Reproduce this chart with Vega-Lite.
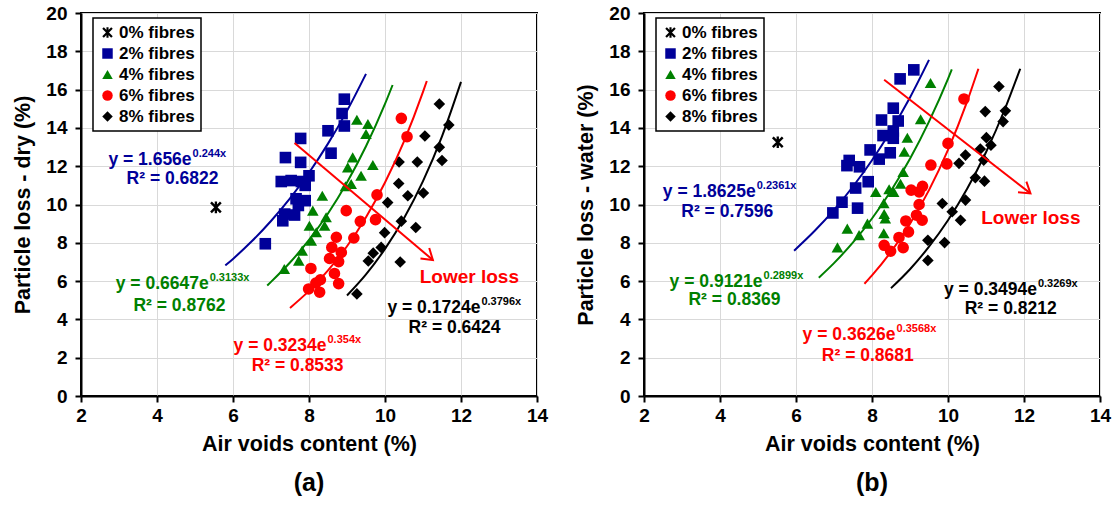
{
  "$schema": "https://vega.github.io/schema/vega-lite/v6.json",
  "padding": {"left": 11, "top": 3, "right": 0, "bottom": 0},
  "spacing": 25,
  "resolve": {"scale": {"color": "independent", "shape": "independent"}},
  "datasets": {
    "pointsA": [
      {"series": "0% fibres", "x": 5.55, "y": 9.85},
      {"series": "2% fibres", "x": 6.85, "y": 7.95},
      {"series": "2% fibres", "x": 7.31, "y": 9.15},
      {"series": "2% fibres", "x": 7.36, "y": 9.5},
      {"series": "2% fibres", "x": 7.62, "y": 9.45},
      {"series": "2% fibres", "x": 7.66, "y": 10.3},
      {"series": "2% fibres", "x": 7.9, "y": 10.2},
      {"series": "2% fibres", "x": 7.72, "y": 9.95},
      {"series": "2% fibres", "x": 7.27, "y": 11.2},
      {"series": "2% fibres", "x": 7.53, "y": 11.25},
      {"series": "2% fibres", "x": 7.8, "y": 11.2},
      {"series": "2% fibres", "x": 7.9, "y": 11.0},
      {"series": "2% fibres", "x": 8.0, "y": 11.5},
      {"series": "2% fibres", "x": 7.38, "y": 12.45},
      {"series": "2% fibres", "x": 7.78, "y": 12.2},
      {"series": "2% fibres", "x": 7.78, "y": 13.45},
      {"series": "2% fibres", "x": 8.58, "y": 12.68},
      {"series": "2% fibres", "x": 8.5, "y": 13.85},
      {"series": "2% fibres", "x": 8.93, "y": 14.1},
      {"series": "2% fibres", "x": 8.87, "y": 14.75},
      {"series": "2% fibres", "x": 8.93, "y": 15.5},
      {"series": "4% fibres", "x": 9.26, "y": 14.43},
      {"series": "4% fibres", "x": 9.55, "y": 14.2},
      {"series": "4% fibres", "x": 9.5, "y": 13.68},
      {"series": "4% fibres", "x": 9.15, "y": 12.46},
      {"series": "4% fibres", "x": 9.02, "y": 11.94},
      {"series": "4% fibres", "x": 9.68, "y": 12.06},
      {"series": "4% fibres", "x": 9.37, "y": 11.5},
      {"series": "4% fibres", "x": 9.11, "y": 11.07},
      {"series": "4% fibres", "x": 8.96, "y": 10.95},
      {"series": "4% fibres", "x": 8.35, "y": 10.46},
      {"series": "4% fibres", "x": 8.1, "y": 9.68},
      {"series": "4% fibres", "x": 8.45, "y": 9.33},
      {"series": "4% fibres", "x": 8.01, "y": 8.89},
      {"series": "4% fibres", "x": 8.41, "y": 8.89},
      {"series": "4% fibres", "x": 8.19, "y": 8.55},
      {"series": "4% fibres", "x": 8.06, "y": 8.11},
      {"series": "4% fibres", "x": 7.82, "y": 7.59},
      {"series": "4% fibres", "x": 7.73, "y": 7.07},
      {"series": "4% fibres", "x": 7.35, "y": 6.63},
      {"series": "6% fibres", "x": 10.43, "y": 14.5},
      {"series": "6% fibres", "x": 10.58, "y": 13.54},
      {"series": "6% fibres", "x": 9.79, "y": 10.5},
      {"series": "6% fibres", "x": 8.98, "y": 9.68},
      {"series": "6% fibres", "x": 9.75, "y": 9.21},
      {"series": "6% fibres", "x": 9.35, "y": 9.12},
      {"series": "6% fibres", "x": 9.18, "y": 8.25},
      {"series": "6% fibres", "x": 8.72, "y": 8.29},
      {"series": "6% fibres", "x": 8.6, "y": 7.76},
      {"series": "6% fibres", "x": 8.85, "y": 7.5},
      {"series": "6% fibres", "x": 8.54, "y": 7.18},
      {"series": "6% fibres", "x": 8.78, "y": 7.02},
      {"series": "6% fibres", "x": 8.05, "y": 6.66},
      {"series": "6% fibres", "x": 8.67, "y": 6.4},
      {"series": "6% fibres", "x": 8.78, "y": 5.87},
      {"series": "6% fibres", "x": 8.3, "y": 6.07},
      {"series": "6% fibres", "x": 8.18, "y": 5.9},
      {"series": "6% fibres", "x": 7.99, "y": 5.59},
      {"series": "6% fibres", "x": 8.28, "y": 5.42},
      {"series": "8% fibres", "x": 11.43, "y": 15.25},
      {"series": "8% fibres", "x": 11.68, "y": 14.15},
      {"series": "8% fibres", "x": 11.05, "y": 13.58},
      {"series": "8% fibres", "x": 11.43, "y": 12.99},
      {"series": "8% fibres", "x": 11.5, "y": 12.3},
      {"series": "8% fibres", "x": 10.37, "y": 12.22},
      {"series": "8% fibres", "x": 10.85, "y": 12.22},
      {"series": "8% fibres", "x": 10.36, "y": 11.1},
      {"series": "8% fibres", "x": 10.6, "y": 10.46},
      {"series": "8% fibres", "x": 11.01, "y": 10.6},
      {"series": "8% fibres", "x": 10.07, "y": 10.1},
      {"series": "8% fibres", "x": 10.43, "y": 9.13},
      {"series": "8% fibres", "x": 10.81, "y": 8.8},
      {"series": "8% fibres", "x": 9.99, "y": 8.53},
      {"series": "8% fibres", "x": 9.9, "y": 7.76},
      {"series": "8% fibres", "x": 9.69, "y": 7.46},
      {"series": "8% fibres", "x": 9.56, "y": 7.05},
      {"series": "8% fibres", "x": 10.4, "y": 7.0},
      {"series": "8% fibres", "x": 9.26, "y": 5.33}
    ],
    "pointsB": [
      {"series": "0% fibres", "x": 5.52, "y": 13.25},
      {"series": "2% fibres", "x": 6.97, "y": 9.56},
      {"series": "2% fibres", "x": 7.21, "y": 10.12},
      {"series": "2% fibres", "x": 7.62, "y": 9.81},
      {"series": "2% fibres", "x": 7.57, "y": 10.86},
      {"series": "2% fibres", "x": 7.9, "y": 11.19},
      {"series": "2% fibres", "x": 7.34, "y": 12.03},
      {"series": "2% fibres", "x": 7.4, "y": 12.3},
      {"series": "2% fibres", "x": 7.67, "y": 11.97},
      {"series": "2% fibres", "x": 7.95, "y": 12.85},
      {"series": "2% fibres", "x": 8.19, "y": 12.37},
      {"series": "2% fibres", "x": 8.48, "y": 12.7},
      {"series": "2% fibres", "x": 8.56, "y": 13.46},
      {"series": "2% fibres", "x": 8.29, "y": 13.6},
      {"series": "2% fibres", "x": 8.56, "y": 13.84},
      {"series": "2% fibres", "x": 8.25, "y": 14.41},
      {"series": "2% fibres", "x": 8.69, "y": 14.36},
      {"series": "2% fibres", "x": 8.56, "y": 15.03},
      {"series": "2% fibres", "x": 8.74, "y": 16.56},
      {"series": "2% fibres", "x": 9.1, "y": 17.03},
      {"series": "4% fibres", "x": 9.54, "y": 16.34},
      {"series": "4% fibres", "x": 9.28, "y": 14.45},
      {"series": "4% fibres", "x": 8.93, "y": 13.49},
      {"series": "4% fibres", "x": 8.85, "y": 12.75},
      {"series": "4% fibres", "x": 8.82, "y": 11.7},
      {"series": "4% fibres", "x": 8.75, "y": 11.08},
      {"series": "4% fibres", "x": 8.1, "y": 10.65},
      {"series": "4% fibres", "x": 8.57, "y": 10.66},
      {"series": "4% fibres", "x": 8.45, "y": 10.8},
      {"series": "4% fibres", "x": 8.31, "y": 10.07},
      {"series": "4% fibres", "x": 8.32, "y": 9.5},
      {"series": "4% fibres", "x": 8.35, "y": 9.27},
      {"series": "4% fibres", "x": 7.88, "y": 9.0},
      {"series": "4% fibres", "x": 7.35, "y": 8.74},
      {"series": "4% fibres", "x": 7.66, "y": 8.4},
      {"series": "4% fibres", "x": 8.31, "y": 8.5},
      {"series": "4% fibres", "x": 7.09, "y": 7.76},
      {"series": "6% fibres", "x": 10.42, "y": 15.51},
      {"series": "6% fibres", "x": 10.0, "y": 13.19},
      {"series": "6% fibres", "x": 9.55, "y": 12.06},
      {"series": "6% fibres", "x": 9.97, "y": 12.12},
      {"series": "6% fibres", "x": 9.03, "y": 10.75},
      {"series": "6% fibres", "x": 9.33, "y": 10.95},
      {"series": "6% fibres", "x": 9.24, "y": 10.66},
      {"series": "6% fibres", "x": 9.24, "y": 10.0},
      {"series": "6% fibres", "x": 9.17, "y": 9.44},
      {"series": "6% fibres", "x": 8.89, "y": 9.14},
      {"series": "6% fibres", "x": 9.32, "y": 9.18},
      {"series": "6% fibres", "x": 8.96, "y": 8.57},
      {"series": "6% fibres", "x": 8.71, "y": 8.28},
      {"series": "6% fibres", "x": 8.32, "y": 7.87},
      {"series": "6% fibres", "x": 8.49, "y": 7.56},
      {"series": "6% fibres", "x": 8.82, "y": 7.75},
      {"series": "8% fibres", "x": 11.34, "y": 16.16},
      {"series": "8% fibres", "x": 10.98, "y": 14.85},
      {"series": "8% fibres", "x": 11.51, "y": 14.89},
      {"series": "8% fibres", "x": 11.45, "y": 14.33},
      {"series": "8% fibres", "x": 11.01, "y": 13.49},
      {"series": "8% fibres", "x": 11.13, "y": 13.1},
      {"series": "8% fibres", "x": 10.85, "y": 12.9},
      {"series": "8% fibres", "x": 10.46, "y": 12.58},
      {"series": "8% fibres", "x": 10.29, "y": 12.15},
      {"series": "8% fibres", "x": 10.94, "y": 12.32},
      {"series": "8% fibres", "x": 10.72, "y": 11.4},
      {"series": "8% fibres", "x": 10.96, "y": 11.22},
      {"series": "8% fibres", "x": 10.46, "y": 10.23},
      {"series": "8% fibres", "x": 9.85, "y": 10.05},
      {"series": "8% fibres", "x": 10.11, "y": 9.62},
      {"series": "8% fibres", "x": 10.33, "y": 9.18},
      {"series": "8% fibres", "x": 9.47, "y": 8.13},
      {"series": "8% fibres", "x": 9.91, "y": 8.01},
      {"series": "8% fibres", "x": 9.47, "y": 7.08}
    ],
    "curvesA": [
      {"series": "2% fibres", "x": 5.8, "y": 6.82},
      {"series": "2% fibres", "x": 6.0, "y": 7.16},
      {"series": "2% fibres", "x": 6.5, "y": 8.09},
      {"series": "2% fibres", "x": 7.0, "y": 9.14},
      {"series": "2% fibres", "x": 7.5, "y": 10.32},
      {"series": "2% fibres", "x": 8.0, "y": 11.66},
      {"series": "2% fibres", "x": 8.5, "y": 13.18},
      {"series": "2% fibres", "x": 9.0, "y": 14.89},
      {"series": "2% fibres", "x": 9.5, "y": 16.82},
      {"series": "4% fibres", "x": 6.9, "y": 5.77},
      {"series": "4% fibres", "x": 7.0, "y": 5.96},
      {"series": "4% fibres", "x": 7.5, "y": 6.97},
      {"series": "4% fibres", "x": 8.0, "y": 8.15},
      {"series": "4% fibres", "x": 8.5, "y": 9.53},
      {"series": "4% fibres", "x": 9.0, "y": 11.15},
      {"series": "4% fibres", "x": 9.5, "y": 13.04},
      {"series": "4% fibres", "x": 10.0, "y": 15.25},
      {"series": "4% fibres", "x": 10.2, "y": 16.24},
      {"series": "6% fibres", "x": 7.5, "y": 4.6},
      {"series": "6% fibres", "x": 8.0, "y": 5.49},
      {"series": "6% fibres", "x": 8.5, "y": 6.56},
      {"series": "6% fibres", "x": 9.0, "y": 7.82},
      {"series": "6% fibres", "x": 9.5, "y": 9.34},
      {"series": "6% fibres", "x": 10.0, "y": 11.15},
      {"series": "6% fibres", "x": 10.5, "y": 13.3},
      {"series": "6% fibres", "x": 11.0, "y": 15.88},
      {"series": "6% fibres", "x": 11.1, "y": 16.45},
      {"series": "8% fibres", "x": 9.0, "y": 5.25},
      {"series": "8% fibres", "x": 9.5, "y": 6.35},
      {"series": "8% fibres", "x": 10.0, "y": 7.68},
      {"series": "8% fibres", "x": 10.5, "y": 9.28},
      {"series": "8% fibres", "x": 11.0, "y": 11.22},
      {"series": "8% fibres", "x": 11.5, "y": 13.56},
      {"series": "8% fibres", "x": 12.0, "y": 16.4}
    ],
    "curvesB": [
      {"series": "2% fibres", "x": 5.95, "y": 7.59},
      {"series": "2% fibres", "x": 6.5, "y": 8.64},
      {"series": "2% fibres", "x": 7.0, "y": 9.72},
      {"series": "2% fibres", "x": 7.5, "y": 10.94},
      {"series": "2% fibres", "x": 8.0, "y": 12.31},
      {"series": "2% fibres", "x": 8.5, "y": 13.86},
      {"series": "2% fibres", "x": 9.0, "y": 15.59},
      {"series": "2% fibres", "x": 9.5, "y": 17.55},
      {"series": "4% fibres", "x": 6.6, "y": 6.18},
      {"series": "4% fibres", "x": 7.0, "y": 6.94},
      {"series": "4% fibres", "x": 7.5, "y": 8.02},
      {"series": "4% fibres", "x": 8.0, "y": 9.27},
      {"series": "4% fibres", "x": 8.5, "y": 10.72},
      {"series": "4% fibres", "x": 9.0, "y": 12.39},
      {"series": "4% fibres", "x": 9.5, "y": 14.33},
      {"series": "4% fibres", "x": 10.0, "y": 16.56},
      {"series": "4% fibres", "x": 10.1, "y": 17.05},
      {"series": "6% fibres", "x": 7.8, "y": 5.86},
      {"series": "6% fibres", "x": 8.0, "y": 6.3},
      {"series": "6% fibres", "x": 8.5, "y": 7.53},
      {"series": "6% fibres", "x": 9.0, "y": 9.0},
      {"series": "6% fibres", "x": 9.5, "y": 10.75},
      {"series": "6% fibres", "x": 10.0, "y": 12.85},
      {"series": "6% fibres", "x": 10.5, "y": 15.36},
      {"series": "6% fibres", "x": 10.8, "y": 17.09},
      {"series": "8% fibres", "x": 8.5, "y": 5.63},
      {"series": "8% fibres", "x": 9.0, "y": 6.62},
      {"series": "8% fibres", "x": 9.5, "y": 7.8},
      {"series": "8% fibres", "x": 10.0, "y": 9.18},
      {"series": "8% fibres", "x": 10.5, "y": 10.81},
      {"series": "8% fibres", "x": 11.0, "y": 12.73},
      {"series": "8% fibres", "x": 11.5, "y": 15.0},
      {"series": "8% fibres", "x": 11.9, "y": 17.09}
    ],
    "eqA": [
      {"series": "2% fibres", "x": 4.91, "y": 12.32, "base": "y = 1.656e", "exp": "0.244x"},
      {"series": "4% fibres", "x": 5.36, "y": 5.85, "base": "y = 0.6647e", "exp": "0.3133x"},
      {"series": "6% fibres", "x": 8.46, "y": 2.63, "base": "y = 0.3234e", "exp": "0.354x"},
      {"series": "8% fibres", "x": 12.51, "y": 4.6, "base": "y = 0.1724e", "exp": "0.3796x"}
    ],
    "r2A": [
      {"series": "2% fibres", "x": 4.41, "y": 11.33, "label": "R² = 0.6822"},
      {"series": "4% fibres", "x": 4.59, "y": 4.72, "label": "R² = 0.8762"},
      {"series": "6% fibres", "x": 7.7, "y": 1.55, "label": "R² = 0.8533"},
      {"series": "8% fibres", "x": 11.83, "y": 3.55, "label": "R² = 0.6424"}
    ],
    "eqB": [
      {"series": "2% fibres", "x": 4.94, "y": 10.66, "base": "y = 1.8625e", "exp": "0.2361x"},
      {"series": "4% fibres", "x": 5.12, "y": 5.95, "base": "y = 0.9121e", "exp": "0.2899x"},
      {"series": "6% fibres", "x": 8.62, "y": 3.16, "base": "y = 0.3626e", "exp": "0.3568x"},
      {"series": "8% fibres", "x": 12.34, "y": 5.51, "base": "y = 0.3494e", "exp": "0.3269x"}
    ],
    "r2B": [
      {"series": "2% fibres", "x": 4.19, "y": 9.62, "label": "R² = 0.7596"},
      {"series": "4% fibres", "x": 4.38, "y": 4.99, "label": "R² = 0.8369"},
      {"series": "6% fibres", "x": 7.89, "y": 2.08, "label": "R² = 0.8681"},
      {"series": "8% fibres", "x": 11.65, "y": 4.55, "label": "R² = 0.8212"}
    ],
    "arrowA": [{"x": 7.62, "y": 13.21}, {"x": 11.26, "y": 7.1}],
    "headA": [{"x": 11.26, "y": 7.1}],
    "noteA": [{"x": 12.22, "y": 6.21, "label": "Lower loss"}],
    "arrowB": [{"x": 8.32, "y": 16.51}, {"x": 12.17, "y": 10.58}],
    "headB": [{"x": 12.17, "y": 10.58}],
    "noteB": [{"x": 12.18, "y": 9.27, "label": "Lower loss"}]
  },
  "hconcat": [
    {
      "width": 456,
      "height": 383,
      "title": {"text": "(a)"},
      "resolve": {"scale": {"color": "independent", "shape": "independent"}},
      "encoding": {
        "x": {"field": "x", "type": "quantitative", "scale": {"domain": [2, 14], "nice": false, "zero": false}, "axis": {"title": "Air voids content (%)", "values": [2, 4, 6, 8, 10, 12, 14]}},
        "y": {"field": "y", "type": "quantitative", "scale": {"domain": [0, 20], "nice": false}, "axis": {"title": "Particle loss - dry (%)", "values": [0, 2, 4, 6, 8, 10, 12, 14, 16, 18, 20]}}
      },
      "layer": [
        {
          "data": {"name": "pointsA"},
          "mark": {"type": "point", "filled": true, "size": 135, "opacity": 1},
          "encoding": {
            "color": {"field": "series", "type": "nominal", "legend": {"title": null, "orient": "none", "legendX": 12, "legendY": 5}, "scale": {"domain": ["0% fibres", "2% fibres", "4% fibres", "6% fibres", "8% fibres"], "range": ["#000000", "#000099", "#008000", "#FF0000", "#000000"]}},
            "shape": {"field": "series", "type": "nominal", "legend": {"title": null, "orient": "none", "legendX": 12, "legendY": 5}, "scale": {"domain": ["0% fibres", "2% fibres", "4% fibres", "6% fibres", "8% fibres"], "range": ["M-1,-0.7L-0.7,-1L1,0.7L0.7,1ZM1,-0.7L-0.7,1L-1,0.7L0.7,-1ZM-0.2,-1L0.2,-1L0.2,1L-0.2,1Z", "square", "triangle-up", "circle", "diamond"]}}
          }
        },
        {
          "data": {"name": "curvesA"},
          "mark": {"type": "line", "strokeWidth": 2, "interpolate": "monotone"},
          "encoding": {
            "color": {"field": "series", "type": "nominal", "legend": null, "scale": {"domain": ["0% fibres", "2% fibres", "4% fibres", "6% fibres", "8% fibres"], "range": ["#000000", "#000099", "#008000", "#FF0000", "#000000"]}}
          }
        },
        {
          "data": {"name": "arrowA"},
          "mark": {"type": "line", "strokeWidth": 2, "color": "#FF0000"},
          "encoding": {}
        },
        {
          "data": {"name": "headA"},
          "mark": {"type": "point", "shape": "M-1,-0.65L0,0L-1,0.65", "filled": false, "size": 440, "angle": 40, "strokeWidth": 2, "color": "#FF0000", "opacity": 1},
          "encoding": {}
        },
        {
          "data": {"name": "eqA"},
          "mark": {"type": "text", "align": "right", "baseline": "middle", "fontSize": 17.5, "fontWeight": "bold"},
          "encoding": {
            "text": {"field": "base"},
            "color": {"field": "series", "type": "nominal", "legend": null, "scale": {"domain": ["0% fibres", "2% fibres", "4% fibres", "6% fibres", "8% fibres"], "range": ["#000000", "#000099", "#008000", "#FF0000", "#000000"]}}
          }
        },
        {
          "data": {"name": "eqA"},
          "mark": {"type": "text", "align": "left", "baseline": "middle", "fontSize": 11, "fontWeight": "bold", "dx": 1, "dy": -6},
          "encoding": {
            "text": {"field": "exp"},
            "color": {"field": "series", "type": "nominal", "legend": null, "scale": {"domain": ["0% fibres", "2% fibres", "4% fibres", "6% fibres", "8% fibres"], "range": ["#000000", "#000099", "#008000", "#FF0000", "#000000"]}}
          }
        },
        {
          "data": {"name": "r2A"},
          "mark": {"type": "text", "align": "center", "baseline": "middle", "fontSize": 17.5, "fontWeight": "bold"},
          "encoding": {
            "text": {"field": "label"},
            "color": {"field": "series", "type": "nominal", "legend": null, "scale": {"domain": ["0% fibres", "2% fibres", "4% fibres", "6% fibres", "8% fibres"], "range": ["#000000", "#000099", "#008000", "#FF0000", "#000000"]}}
          }
        },
        {
          "data": {"name": "noteA"},
          "mark": {"type": "text", "align": "center", "baseline": "middle", "fontSize": 19, "fontWeight": "bold", "color": "#FF0000"},
          "encoding": {"text": {"field": "label"}}
        }
      ]
    },
    {
      "width": 456,
      "height": 383,
      "title": {"text": "(b)"},
      "resolve": {"scale": {"color": "independent", "shape": "independent"}},
      "encoding": {
        "x": {"field": "x", "type": "quantitative", "scale": {"domain": [2, 14], "nice": false, "zero": false}, "axis": {"title": "Air voids content (%)", "values": [2, 4, 6, 8, 10, 12, 14]}},
        "y": {"field": "y", "type": "quantitative", "scale": {"domain": [0, 20], "nice": false}, "axis": {"title": "Particle loss - water (%)", "values": [0, 2, 4, 6, 8, 10, 12, 14, 16, 18, 20]}}
      },
      "layer": [
        {
          "data": {"name": "pointsB"},
          "mark": {"type": "point", "filled": true, "size": 135, "opacity": 1},
          "encoding": {
            "color": {"field": "series", "type": "nominal", "legend": {"title": null, "orient": "none", "legendX": 12, "legendY": 5}, "scale": {"domain": ["0% fibres", "2% fibres", "4% fibres", "6% fibres", "8% fibres"], "range": ["#000000", "#000099", "#008000", "#FF0000", "#000000"]}},
            "shape": {"field": "series", "type": "nominal", "legend": {"title": null, "orient": "none", "legendX": 12, "legendY": 5}, "scale": {"domain": ["0% fibres", "2% fibres", "4% fibres", "6% fibres", "8% fibres"], "range": ["M-1,-0.7L-0.7,-1L1,0.7L0.7,1ZM1,-0.7L-0.7,1L-1,0.7L0.7,-1ZM-0.2,-1L0.2,-1L0.2,1L-0.2,1Z", "square", "triangle-up", "circle", "diamond"]}}
          }
        },
        {
          "data": {"name": "curvesB"},
          "mark": {"type": "line", "strokeWidth": 2, "interpolate": "monotone"},
          "encoding": {
            "color": {"field": "series", "type": "nominal", "legend": null, "scale": {"domain": ["0% fibres", "2% fibres", "4% fibres", "6% fibres", "8% fibres"], "range": ["#000000", "#000099", "#008000", "#FF0000", "#000000"]}}
          }
        },
        {
          "data": {"name": "arrowB"},
          "mark": {"type": "line", "strokeWidth": 2, "color": "#FF0000"},
          "encoding": {}
        },
        {
          "data": {"name": "headB"},
          "mark": {"type": "point", "shape": "M-1,-0.65L0,0L-1,0.65", "filled": false, "size": 440, "angle": 38, "strokeWidth": 2, "color": "#FF0000", "opacity": 1},
          "encoding": {}
        },
        {
          "data": {"name": "eqB"},
          "mark": {"type": "text", "align": "right", "baseline": "middle", "fontSize": 17.5, "fontWeight": "bold"},
          "encoding": {
            "text": {"field": "base"},
            "color": {"field": "series", "type": "nominal", "legend": null, "scale": {"domain": ["0% fibres", "2% fibres", "4% fibres", "6% fibres", "8% fibres"], "range": ["#000000", "#000099", "#008000", "#FF0000", "#000000"]}}
          }
        },
        {
          "data": {"name": "eqB"},
          "mark": {"type": "text", "align": "left", "baseline": "middle", "fontSize": 11, "fontWeight": "bold", "dx": 1, "dy": -6},
          "encoding": {
            "text": {"field": "exp"},
            "color": {"field": "series", "type": "nominal", "legend": null, "scale": {"domain": ["0% fibres", "2% fibres", "4% fibres", "6% fibres", "8% fibres"], "range": ["#000000", "#000099", "#008000", "#FF0000", "#000000"]}}
          }
        },
        {
          "data": {"name": "r2B"},
          "mark": {"type": "text", "align": "center", "baseline": "middle", "fontSize": 17.5, "fontWeight": "bold"},
          "encoding": {
            "text": {"field": "label"},
            "color": {"field": "series", "type": "nominal", "legend": null, "scale": {"domain": ["0% fibres", "2% fibres", "4% fibres", "6% fibres", "8% fibres"], "range": ["#000000", "#000099", "#008000", "#FF0000", "#000000"]}}
          }
        },
        {
          "data": {"name": "noteB"},
          "mark": {"type": "text", "align": "center", "baseline": "middle", "fontSize": 19, "fontWeight": "bold", "color": "#FF0000"},
          "encoding": {"text": {"field": "label"}}
        }
      ]
    }
  ],
  "config": {
    "font": "Liberation Sans",
    "view": {"stroke": "#000000", "strokeWidth": 2},
    "axis": {
      "domainColor": "#000000", "domainWidth": 2, "tickColor": "#000000", "tickWidth": 2, "tickSize": 6,
      "labelFontSize": 19, "labelFontWeight": "bold", "labelColor": "#000000", "labelFlush": false, "labelOverlap": false, "labelPadding": 4,
      "titleFontSize": 21.5, "titleFontWeight": "bold", "titleColor": "#000000",
      "gridColor": "#d9d9d9", "gridWidth": 1, "grid": true
    },
    "axisX": {"titlePadding": 8},
    "axisY": {"titlePadding": 11, "labelPadding": 8},
    "legend": {
      "fillColor": "#FFFFFF", "strokeColor": "#000000", "strokeWidth": 1.5, "padding": 6,
      "labelFontSize": 17, "labelFontWeight": "bold", "labelColor": "#000000", "labelOffset": 3,
      "symbolSize": 110, "symbolOpacity": 1, "rowPadding": 3, "symbolStrokeWidth": 0
    },
    "title": {"orient": "bottom", "fontSize": 25, "fontWeight": "bold", "color": "#000000", "anchor": "middle", "offset": 16}
  }
}
